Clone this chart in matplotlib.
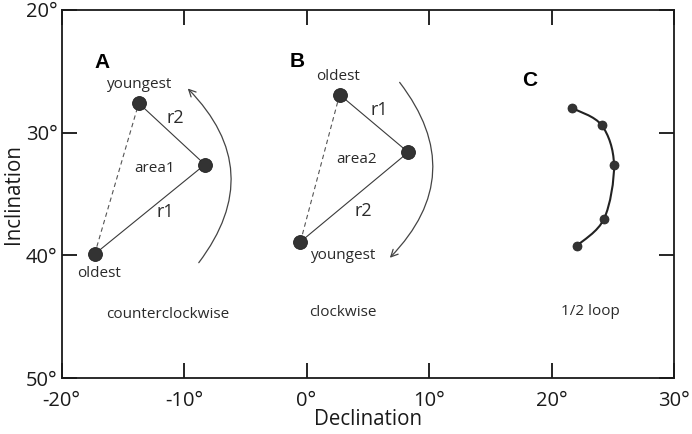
import numpy as np
import matplotlib
matplotlib.use("Agg")
import matplotlib.pyplot as plt
from matplotlib.path import Path
from matplotlib.patches import PathPatch

plt.rcParams['font.family'] = ['Open Sans', 'DejaVu Sans']

# panel A: oldest, middle, youngest
dec_a = [-17.3, -8.3, -13.7]
inc_a = [39.9, 32.6, 27.6]
# panel B: oldest, middle, youngest
dec_b = [2.7, 8.3, -0.5]
inc_b = [26.9, 31.6, 38.9]
# panel C: half loop
dec_c = [21.7, 24.1, 25.1, 24.3, 22.1]
inc_c = [28.0, 29.4, 32.6, 37.0, 39.2]

x_ticks = [-20, -10, 0, 10, 20, 30]
y_ticks = [20, 30, 40, 50]

# rotation arrows (start, end)
arc_a = [(-8.8, 40.6), (-9.7, 26.4)]
arc_b = [(7.6, 25.9), (6.8, 40.2)]

dot_color = '#333333'
line_color = '#3a3a3a'
text_color = '#2a2a2a'


def draw_triangle(ax, dec, inc):
    # solid legs oldest-middle-youngest, dashed closing side
    ax.plot(dec, inc, color=line_color, lw=0.8, zorder=2)
    ax.plot([dec[0], dec[2]], [inc[0], inc[2]], color='#555555', lw=0.8,
            ls=(0, (4, 3)), zorder=2)
    ax.plot(dec, inc, 'o', ms=10, color=dot_color, mec='#222222', mew=0.6,
            zorder=3)


def draw_arc(ax, arc, rad):
    ax.annotate('', xy=arc[1], xytext=arc[0],
                arrowprops=dict(arrowstyle='->,head_length=0.5,head_width=0.25',
                                connectionstyle='arc3,rad=%s' % rad,
                                color='#444444', lw=0.9,
                                shrinkA=0, shrinkB=0))


def smooth_path(xs, ys):
    # catmull-rom through the points, drawn as bezier segments
    pts = np.column_stack([xs, ys])
    verts = [pts[0]]
    codes = [Path.MOVETO]
    n = len(pts)
    for i in range(n - 1):
        p0 = pts[max(i - 1, 0)]
        p1 = pts[i]
        p2 = pts[i + 1]
        p3 = pts[min(i + 2, n - 1)]
        verts += [p1 + (p2 - p0) / 6, p2 - (p3 - p1) / 6, p2]
        codes += [Path.CURVE4] * 3
    return Path(verts, codes)


fig = plt.figure(figsize=(6.92, 4.34), dpi=100)
ax = fig.add_axes([0.089, 0.129, 0.885, 0.848])

draw_triangle(ax, dec_a, inc_a)
draw_triangle(ax, dec_b, inc_b)
draw_arc(ax, arc_a, 0.43)
draw_arc(ax, arc_b, -0.43)

ax.add_patch(PathPatch(smooth_path(dec_c, inc_c), fill=False,
                       ec='#222222', lw=1.5, zorder=2))
ax.plot(dec_c, inc_c, 'o', ms=6.5, color=dot_color, mec='#222222', mew=0.5,
        zorder=3)

lab = dict(color=text_color, ha='center', va='center')
big = dict(fontsize=15, fontweight='bold', family='Liberation Sans',
           color='black', ha='center', va='center')
ax.text(-16.7, 24.3, 'A', **big)
ax.text(-13.6, 26.1, 'youngest', fontsize=11, **lab)
ax.text(-10.7, 28.8, 'r2', fontsize=13, **lab)
ax.text(-12.45, 32.9, 'area1', fontsize=11, **lab)
ax.text(-11.5, 36.5, 'r1', fontsize=13, **lab)
ax.text(-16.9, 41.5, 'oldest', fontsize=11, **lab)
ax.text(-11.3, 44.8, 'counterclockwise', fontsize=11, **lab)

ax.text(-0.75, 24.2, 'B', **big)
ax.text(2.6, 25.4, 'oldest', fontsize=11, **lab)
ax.text(5.9, 28.15, 'r1', fontsize=13, **lab)
ax.text(4.05, 32.2, 'area2', fontsize=11, **lab)
ax.text(4.65, 36.4, 'r2', fontsize=13, **lab)
ax.text(3.0, 40.05, 'youngest', fontsize=11, **lab)
ax.text(3.0, 44.7, 'clockwise', fontsize=11, **lab)

ax.text(18.25, 25.75, 'C', **big)
ax.text(23.15, 44.6, '1/2 loop', fontsize=11, **lab)

ax.set_xlim(-20, 30)
ax.set_ylim(50, 20)
ax.set_xticks(x_ticks)
ax.set_xticklabels(['%d°' % v for v in x_ticks])
ax.set_yticks(y_ticks)
ax.set_yticklabels(['%d°' % v for v in y_ticks])
ax.tick_params(direction='in', length=11, width=1.2, top=True, right=True,
               labelsize=14.5, labelcolor='#1a1a1a')
ax.tick_params(axis='x', pad=9)
ax.tick_params(axis='y', pad=3)
for s in ax.spines.values():
    s.set_linewidth(1.3)
    s.set_color('#1a1a1a')

ax.set_xlabel('Declination', fontsize=14.8, color='#1a1a1a', labelpad=-1)
ax.set_ylabel('Inclination', fontsize=14.8, color='#1a1a1a', labelpad=1)

fig.savefig('out.png', dpi=100)
